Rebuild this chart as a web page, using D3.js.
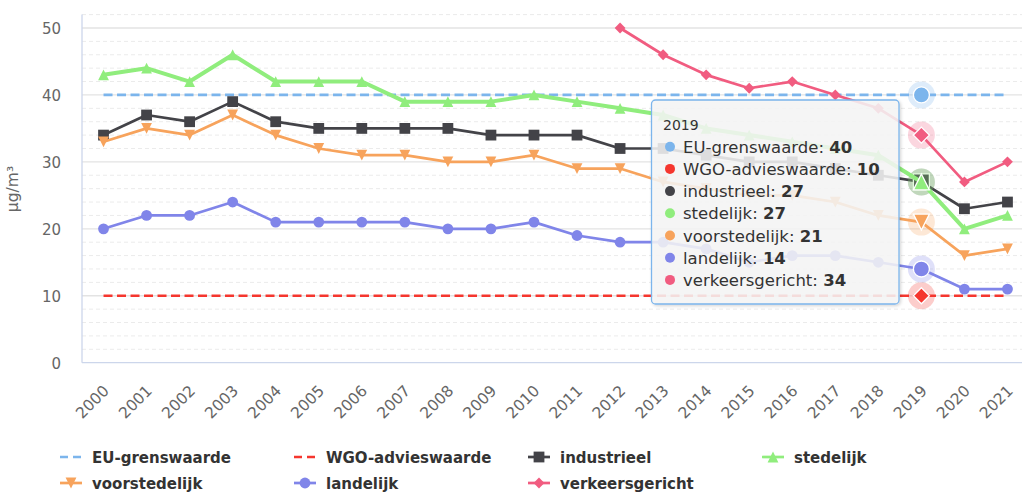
<!DOCTYPE html>
<html>
<head>
<meta charset="utf-8">
<script src="https://cdn.jsdelivr.net/npm/d3@7"></script>
<style>
  html, body { margin: 0; padding: 0; background: #ffffff; }
  svg { display: block; font-family: "DejaVu Sans", Verdana, sans-serif; }
</style>
</head>
<body>
<svg id="chart" width="1022" height="493"></svg>
<script>
// NO2 concentrations per station type (µg/m³), 2000–2021
const years = ["2000", "2001", "2002", "2003", "2004", "2005", "2006", "2007", "2008", "2009", "2010",
               "2011", "2012", "2013", "2014", "2015", "2016", "2017", "2018", "2019", "2020", "2021"];

const euGrenswaarde   = [40, 40, 40, 40, 40, 40, 40, 40, 40, 40, 40, 40, 40, 40, 40, 40, 40, 40, 40, 40, 40, 40];
const wgoAdvieswaarde = [10, 10, 10, 10, 10, 10, 10, 10, 10, 10, 10, 10, 10, 10, 10, 10, 10, 10, 10, 10, 10, 10];
const industrieel     = [34, 37, 36, 39, 36, 35, 35, 35, 35, 34, 34, 34, 32, 32, 31, 30, 30, 29, 28, 27, 23, 24];
const stedelijk       = [43, 44, 42, 46, 42, 42, 42, 39, 39, 39, 40, 39, 38, 37, 35, 34, 33, 32, 31, 27, 20, 22];
const voorstedelijk   = [33, 35, 34, 37, 34, 32, 31, 31, 30, 30, 31, 29, 29, 27, 26, 25, 25, 24, 22, 21, 16, 17];
const landelijk       = [20, 22, 22, 24, 21, 21, 21, 21, 20, 20, 21, 19, 18, 18, 17, 15, 16, 16, 15, 14, 11, 11];
const verkeersgericht = [null, null, null, null, null, null, null, null, null, null, null, null,
                         50, 46, 43, 41, 42, 40, 38, 34, 27, 30];

const yTicks = [0, 10, 20, 30, 40, 50];
const yMax = 52;
const hoverYear = "2019";

const series = [
  { name: "EU-grenswaarde",   values: euGrenswaarde,   color: "#7cb5ec", symbol: "circle",        dashed: true,  markers: false },
  { name: "WGO-advieswaarde", values: wgoAdvieswaarde, color: "#f5362e", symbol: "diamond",       dashed: true,  markers: false },
  { name: "industrieel",      values: industrieel,     color: "#434348", symbol: "square",        dashed: false, markers: true },
  { name: "stedelijk",        values: stedelijk,       color: "#90ed7d", symbol: "triangle",      dashed: false, markers: true, hovered: true },
  { name: "voorstedelijk",    values: voorstedelijk,   color: "#f7a35c", symbol: "triangle-down", dashed: false, markers: true },
  { name: "landelijk",        values: landelijk,       color: "#8085e9", symbol: "circle",        dashed: false, markers: true },
  { name: "verkeersgericht",  values: verkeersgericht, color: "#f15c80", symbol: "diamond",       dashed: false, markers: true }
];

// ---- layout ----
const plot = { left: 82, right: 1029, top: 14.6, bottom: 362.7 };
const svg = d3.select("#chart");

const x = d3.scalePoint().domain(years).range([plot.left, plot.right]).padding(0.5);
const y = d3.scaleLinear().domain([0, yMax]).range([plot.bottom, plot.top]);

function symbolPath(type, r) {
  switch (type) {
    case "square":        return `M${-r},${-r}H${r}V${r}H${-r}Z`;
    case "triangle":      return `M0,${-r}L${r},${r}L${-r},${r}Z`;
    case "triangle-down": return `M${-r},${-r}L${r},${-r}L0,${r}Z`;
    case "diamond":       return `M0,${-r}L${r},0L0,${r}L${-r},0Z`;
    default:              return `M${-r},0A${r},${r} 0 1,0 ${r},0A${r},${r} 0 1,0 ${-r},0Z`;
  }
}

const defs = svg.append("defs");
const shadow = defs.append("filter").attr("id", "tipShadow")
  .attr("x", "-10%").attr("y", "-10%").attr("width", "130%").attr("height", "130%");
shadow.append("feDropShadow").attr("dx", 1.3).attr("dy", 1.3).attr("stdDeviation", 1.6)
  .attr("flood-color", "#000").attr("flood-opacity", 0.18);
defs.append("clipPath").attr("id", "plotClip").append("rect")
  .attr("x", plot.left).attr("y", 0).attr("width", plot.right - plot.left).attr("height", plot.bottom + 20);

// ---- grid ----
const grid = svg.append("g");
const minorTicks = d3.range(0, yMax + 1, 2).filter(v => v % 10 !== 0);
grid.selectAll("line.minor").data(minorTicks).join("line")
  .attr("x1", plot.left).attr("x2", plot.right)
  .attr("y1", d => y(d)).attr("y2", d => y(d))
  .attr("stroke", "#ebebeb").attr("stroke-width", 1).attr("stroke-dasharray", "4,3");
grid.selectAll("line.major").data(yTicks.filter(v => v > 0)).join("line")
  .attr("x1", plot.left).attr("x2", plot.right)
  .attr("y1", d => y(d)).attr("y2", d => y(d))
  .attr("stroke", "#e3e3e3").attr("stroke-width", 1.3);

// axis lines
svg.append("line").attr("x1", plot.left).attr("x2", plot.left)
  .attr("y1", plot.top).attr("y2", plot.bottom)
  .attr("stroke", "#ccd6eb").attr("stroke-width", 1.3);
svg.append("line").attr("x1", plot.left).attr("x2", plot.right)
  .attr("y1", plot.bottom).attr("y2", plot.bottom)
  .attr("stroke", "#ccd6eb").attr("stroke-width", 1.3);

// ---- y axis labels ----
const yAxis = svg.append("g")
  .attr("transform", `translate(${plot.left - 21},0)`)
  .call(d3.axisLeft(y).tickValues(yTicks).tickSize(0).tickPadding(0).tickFormat(d3.format("d")));
yAxis.select(".domain").remove();
yAxis.selectAll("text")
  .attr("fill", "#666666").attr("font-size", "15px")
  .attr("font-family", "DejaVu Sans, Verdana, sans-serif")
  .attr("dy", "0.36em");

svg.append("text")
  .attr("transform", `translate(18,189) rotate(-90)`)
  .attr("text-anchor", "middle")
  .attr("fill", "#666666").attr("font-size", "15.5px")
  .text("µg/m³");

// ---- x axis labels ----
const xAxis = svg.append("g")
  .attr("transform", `translate(0,${plot.bottom})`)
  .call(d3.axisBottom(x).tickSize(0).tickPadding(0));
xAxis.select(".domain").remove();
xAxis.selectAll("text")
  .attr("fill", "#666666").attr("font-size", "15.5px")
  .attr("font-family", "DejaVu Sans, Verdana, sans-serif")
  .attr("text-anchor", "end")
  .attr("dy", null).attr("y", null)
  .attr("transform", "translate(6,29) rotate(-45)");

// ---- series ----
const seriesLayer = svg.append("g").attr("clip-path", "url(#plotClip)");
const line = d3.line()
  .defined(d => d.v !== null)
  .x(d => x(d.year))
  .y(d => y(d.v));

const hoverIdx = years.indexOf(hoverYear);

series.forEach(s => {
  const pts = years.map((yr, i) => ({ year: yr, v: s.values[i] }));
  const g = seriesLayer.append("g");
  g.append("path")
    .attr("d", line(pts))
    .attr("fill", "none")
    .attr("stroke", s.color)
    .attr("stroke-width", s.hovered ? 4 : 2.7)
    .attr("stroke-linejoin", "round")
    .attr("stroke-linecap", s.dashed ? "butt" : "round")
    .attr("stroke-dasharray", s.dashed ? "9,4.5" : null);

  if (s.markers) {
    g.selectAll("path.marker")
      .data(pts.filter((d, i) => d.v !== null && i !== hoverIdx))
      .join("path")
      .attr("transform", d => `translate(${x(d.year)},${y(d.v)})`)
      .attr("d", symbolPath(s.symbol, 5.4))
      .attr("fill", s.color);
  }

  // hovered point: halo + enlarged marker
  const hv = s.values[hoverIdx];
  if (hv !== null) {
    const hg = g.append("g").attr("transform", `translate(${x(hoverYear)},${y(hv)})`);
    hg.append("circle").attr("r", 13.5).attr("fill", s.color).attr("fill-opacity", 0.25);
    hg.append("path").attr("d", symbolPath(s.symbol, 8))
      .attr("fill", s.color).attr("stroke", "#ffffff").attr("stroke-width", 1.3);
  }
});

// ---- legend ----
const legend = svg.append("g");
series.forEach((s, i) => {
  const col = i % 4, row = Math.floor(i / 4);
  const lg = legend.append("g").attr("transform", `translate(${60 + col * 234},${457 + row * 26})`);
  lg.append("line").attr("x1", 0).attr("x2", 22).attr("y1", 0).attr("y2", 0)
    .attr("stroke", s.color).attr("stroke-width", 2.7)
    .attr("stroke-dasharray", s.dashed ? "8,5" : null);
  if (s.markers) {
    lg.append("path").attr("transform", "translate(11,0)")
      .attr("d", symbolPath(s.symbol, 5.4)).attr("fill", s.color);
  }
  lg.append("text").attr("x", 32).attr("y", 5.5)
    .attr("fill", "#333333").attr("font-size", "15px").attr("font-weight", "bold")
    .text(s.name);
});

// ---- shared tooltip for the hovered year ----
const tip = svg.append("g").attr("transform", "translate(651.5,100)");
tip.append("rect")
  .attr("width", 247.5).attr("height", 204).attr("rx", 4)
  .attr("fill", "rgba(247,247,247,0.85)")
  .attr("stroke", series[0].color).attr("stroke-width", 1.3)
  .attr("filter", "url(#tipShadow)");
tip.append("text").attr("x", 11.5).attr("y", 30)
  .attr("fill", "#333333").attr("font-size", "14px").text(hoverYear);
series.forEach((s, i) => {
  const cy = 46.7 + i * 22.2;
  tip.append("circle").attr("cx", 18.5).attr("cy", cy).attr("r", 5).attr("fill", s.color);
  const t = tip.append("text").attr("x", 31.5).attr("y", cy + 6)
    .attr("fill", "#333333").attr("font-size", "16.5px");
  t.append("tspan").text(s.name + ": ");
  t.append("tspan").attr("font-weight", "bold").text(s.values[hoverIdx]);
});
</script>
</body>
</html>
